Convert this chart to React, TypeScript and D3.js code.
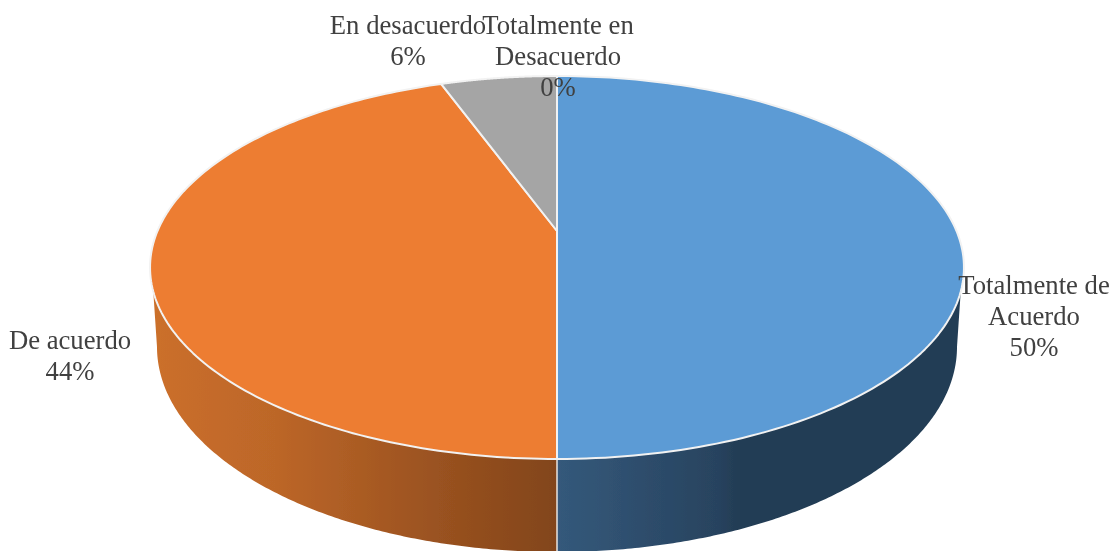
import React from "react";
import * as d3 from "d3";

const categories = ["Totalmente de Acuerdo", "De acuerdo", "En desacuerdo", "Totalmente en Desacuerdo"];
const counts = [9, 8, 1, 0];
const colors = ["#5B9BD5", "#ED7D31", "#A5A5A5", "#FFC000"];
const labelLines = [["Totalmente de", "Acuerdo"], ["De acuerdo"], ["En desacuerdo"], ["Totalmente en", "Desacuerdo"]];
const labelCenters = [[1034, 294], [70, 349], [408, 34], [558, 34]];

const W = 1113, H = 551;
const CX = 557, APEX_Y = 231, RADIUS = 399.5, PERSP = -0.1906, TILT = 140.5;
const BOTTOM = { rx: 400, ry: 205, cy: 347 };
const WALL_SWEEP = (72 * Math.PI) / 180; // visible wall on each side of the front

// projective mapping of the flat disc (angle clockwise from top) to the screen
const top = (t: number): [number, number] => {
  const u = Math.sin(t), v = -Math.cos(t);
  const w = 1 + PERSP * v;
  return [CX + (RADIUS * u) / w, (TILT * v + APEX_Y) / w];
};
const bottom = (t: number): [number, number] => [
  CX + BOTTOM.rx * Math.sin(t),
  BOTTOM.cy - BOTTOM.ry * Math.cos(t),
];
const line = d3.line();
const samples = (a: number, b: number, n = 160) => d3.range(n + 1).map((i) => a + ((b - a) * i) / n);

export default function App() {
  const arcs = d3.pie<number>().sort(null)(counts);
  const total = d3.sum(counts);
  const pct = (v: number) => d3.format(".0%")(v / total);

  // wall between the two rims, running from a side of the disc to the front (PI)
  const wall = (a: number, b: number) => {
    const sideB = a < Math.PI ? Math.PI / 2 : (3 * Math.PI) / 2;
    const tops = samples(a, b).map(top);
    const bottoms = samples(sideB, b).map(bottom).reverse();
    return line([...tops, ...bottoms])! + "Z";
  };

  const blueStops = [[0, "#34597B"], [0.4, "#28435F"], [0.45, "#233D55"], [1, "#233D55"]];
  const orangeStops = [[0, "#CB6F2B"], [0.3, "#BC6628"], [0.7, "#9A5220"], [1, "#82451A"]];

  return (
    <svg width={W} height={H} style={{ position: "absolute", left: 0, top: 0 }} fontFamily="'Liberation Serif', serif">
      <defs>
        <linearGradient id="wallBlue" gradientUnits="userSpaceOnUse" x1={CX} x2={CX + 400} y1={0} y2={0}>
          {blueStops.map(([o, c]) => <stop key={o} offset={o} stopColor={c as string} />)}
        </linearGradient>
        <linearGradient id="wallOrange" gradientUnits="userSpaceOnUse" x1={CX - 400} x2={CX} y1={0} y2={0}>
          {orangeStops.map(([o, c]) => <stop key={o} offset={o} stopColor={c as string} />)}
        </linearGradient>
        <filter id="soft" x="-5%" y="-5%" width="110%" height="110%">
          <feGaussianBlur stdDeviation="0.6" />
        </filter>
      </defs>
      <rect width={W} height={H} fill="#fff" />
      <g filter="url(#soft)">
        <path d={wall(Math.PI - WALL_SWEEP, Math.PI)} fill="url(#wallBlue)" />
        <path d={wall(Math.PI + WALL_SWEEP, Math.PI)} fill="url(#wallOrange)" />
        <line x1={CX} x2={CX} y1={top(Math.PI)[1]} y2={H} stroke="#E8E4E0" strokeWidth={1.5} />
        {arcs.map((a, i) =>
          a.endAngle > a.startAngle ? (
            <path
              key={i}
              d={line([[CX, APEX_Y], ...samples(a.startAngle, a.endAngle).map(top)])! + "Z"}
              fill={colors[i]}
              stroke="#F2F2F2"
              strokeWidth={2}
              strokeLinejoin="round"
            />
          ) : null
        )}
        {labelLines.map((lines, i) => (
          <text key={categories[i]} x={labelCenters[i][0]} y={labelCenters[i][1]} textAnchor="middle" fontSize={26.7} fill="#404040">
            {[...lines, pct(counts[i])].map((t, j) => (
              <tspan key={j} x={labelCenters[i][0]} dy={j === 0 ? 0 : 31}>{t}</tspan>
            ))}
          </text>
        ))}
      </g>
    </svg>
  );
}
